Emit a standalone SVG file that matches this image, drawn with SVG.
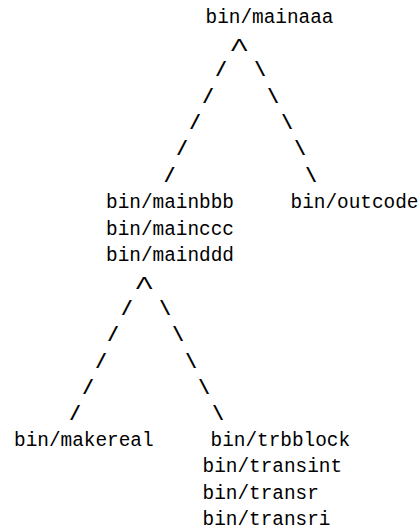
<svg xmlns="http://www.w3.org/2000/svg" width="419" height="531" viewBox="0 0 419 531">
<style>
.t{font-family:"Liberation Mono","Courier New",monospace;font-size:19.4px;fill:#000}
.s{font-family:"Liberation Mono","Courier New",monospace;font-size:19.4px;fill:#000;text-anchor:middle;font-weight:bold}
.a{font-family:"Liberation Sans",Arial,sans-serif;font-size:17px;fill:#000;text-anchor:middle}
</style>
<rect width="419" height="531" fill="#fff"/>
<g id="n_mainaaa"><text class="t" x="205.5" y="23.3">bin/mainaaa</text></g>
<g id="n_mainbbb"><text class="t" x="106" y="208.1">bin/mainbbb</text><text class="t" x="106" y="234.5">bin/mainccc</text><text class="t" x="106" y="260.9">bin/mainddd</text></g>
<g id="n_outcode"><text class="t" x="290.5" y="208.1">bin/outcode</text></g>
<g id="n_makereal"><text class="t" x="14" y="445.7">bin/makereal</text></g>
<g id="n_trbblock"><text class="t" x="210.5" y="445.7">bin/trbblock</text><text class="t" x="202.5" y="472.1">bin/transint</text><text class="t" x="202.5" y="498.5">bin/transr</text><text class="t" x="202.5" y="524.9">bin/transri</text></g>
<g id="connectors">
<text class="a" transform="translate(239.2,50.7) scale(1.45,1)">Λ</text>
<text class="s" x="221" y="76.1">/</text><text class="s" x="208" y="102.5">/</text><text class="s" x="195" y="128.9">/</text><text class="s" x="182" y="155.3">/</text><text class="s" x="169.5" y="181.7">/</text>
<text class="s" x="260" y="76.1">\</text><text class="s" x="273" y="102.5">\</text><text class="s" x="287" y="128.9">\</text><text class="s" x="300" y="155.3">\</text><text class="s" x="311" y="181.7">\</text>
<text class="a" transform="translate(144.2,288.7) scale(1.45,1)">Λ</text>
<text class="s" x="126.7" y="314.7">/</text><text class="s" x="113" y="341.1">/</text><text class="s" x="101" y="367.5">/</text><text class="s" x="88" y="393.9">/</text><text class="s" x="75" y="420.3">/</text>
<text class="s" x="165" y="314.7">\</text><text class="s" x="178" y="341.1">\</text><text class="s" x="191" y="367.5">\</text><text class="s" x="204" y="393.9">\</text><text class="s" x="218" y="420.3">\</text>
</g>
</svg>
